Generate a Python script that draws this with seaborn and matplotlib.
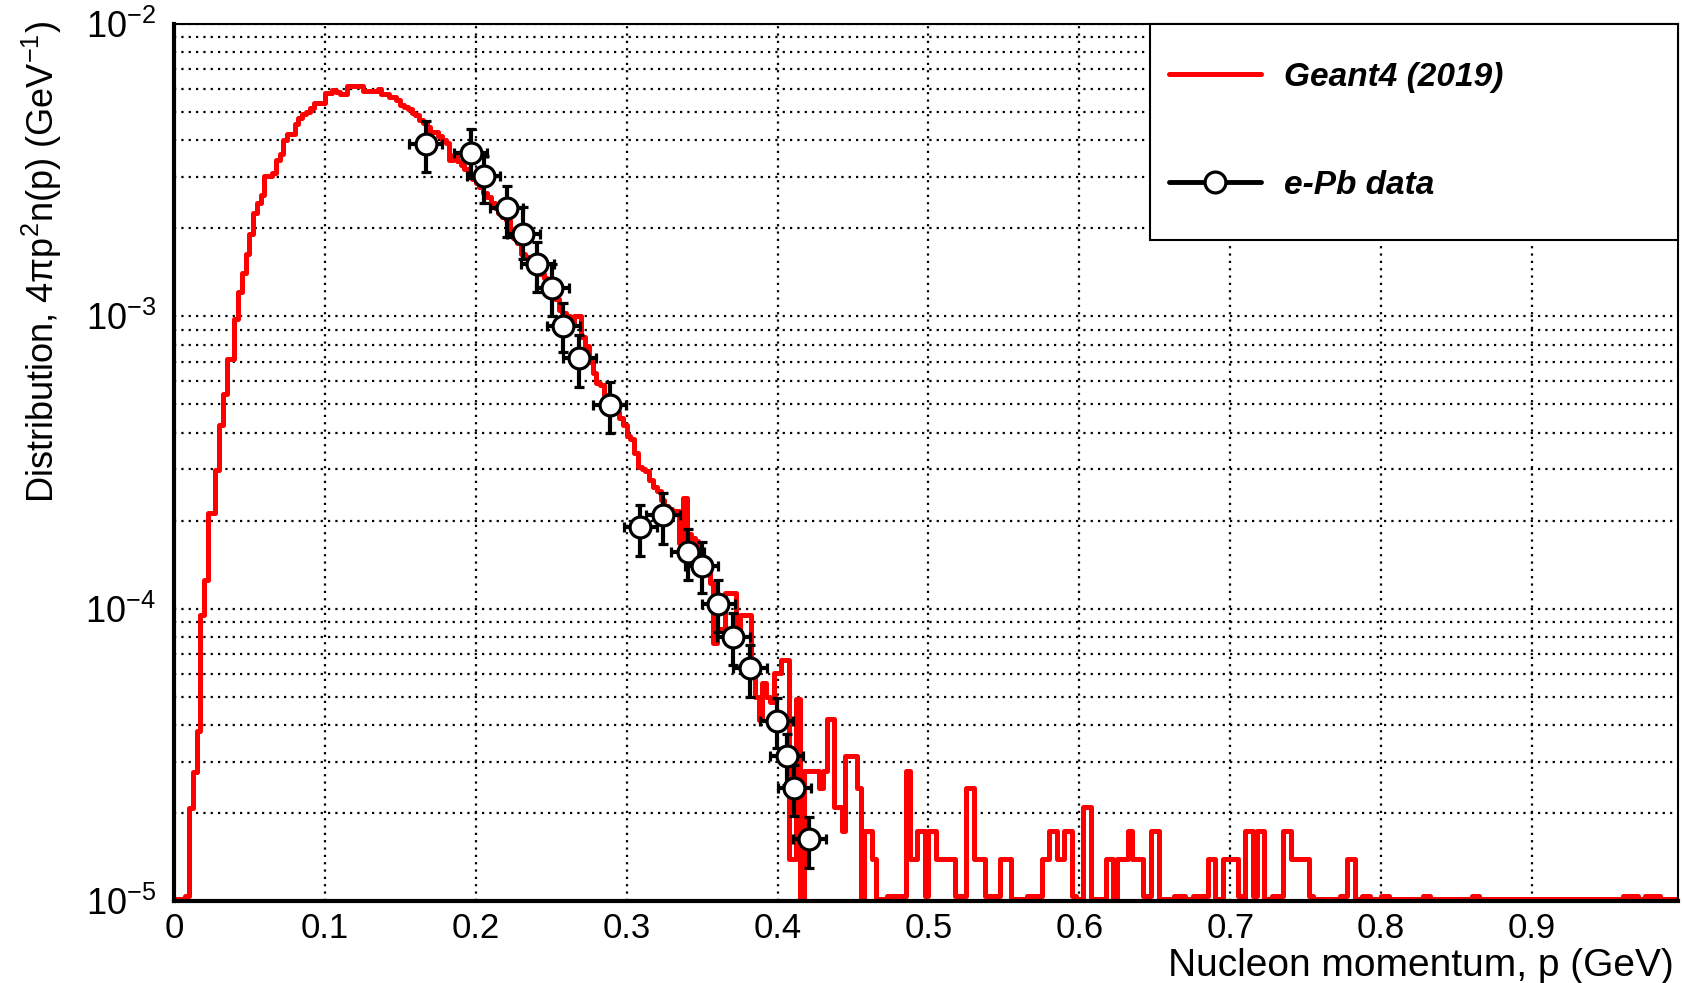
import numpy as np
import pandas as pd
import matplotlib
matplotlib.use("Agg")
import matplotlib.pyplot as plt
import seaborn as sns
from matplotlib.lines import Line2D
from matplotlib.patches import Rectangle
from matplotlib.ticker import LogLocator, MultipleLocator, NullFormatter

# Geant4 (2019): 400 bins of 0.0025 GeV starting at p = 0
bin_width = 0.0025
geant4_density = [
    0, 0, 0, 1.04e-5, 2.08e-5, 2.77e-5, 3.81e-5, 9.5e-5, 1.25e-4, 2.13e-4,
    2.13e-4, 2.99e-4, 4.24e-4, 5.42e-4, 7.14e-4, 7.14e-4, 9.82e-4, 1.21e-3, 1.41e-3, 1.63e-3,
    1.92e-3, 2.25e-3, 2.44e-3, 2.61e-3, 3.02e-3, 3.02e-3, 3.10e-3, 3.43e-3, 3.60e-3, 4.02e-3,
    4.19e-3, 4.19e-3, 4.56e-3, 4.76e-3, 4.93e-3, 5.00e-3, 5.14e-3, 5.36e-3, 5.36e-3, 5.36e-3,
    5.79e-3, 5.79e-3, 5.96e-3, 5.85e-3, 5.75e-3, 5.75e-3, 6.14e-3, 6.14e-3, 6.14e-3, 6.14e-3,
    5.92e-3, 5.92e-3, 5.92e-3, 5.92e-3, 6.00e-3, 5.75e-3, 5.75e-3, 5.64e-3, 5.64e-3, 5.50e-3,
    5.30e-3, 5.20e-3, 5.10e-3, 4.95e-3, 4.90e-3, 4.70e-3, 4.57e-3, 4.45e-3, 4.28e-3, 4.28e-3,
    4.15e-3, 4.01e-3, 3.91e-3, 3.43e-3, 3.55e-3, 3.40e-3, 3.30e-3, 3.20e-3, 3.05e-3, 2.95e-3,
    2.85e-3, 2.78e-3, 2.65e-3, 2.55e-3, 2.44e-3, 2.35e-3, 2.25e-3, 2.18e-3, 2.14e-3, 1.98e-3,
    1.86e-3, 1.78e-3, 1.64e-3, 1.60e-3, 1.55e-3, 1.50e-3, 1.48e-3, 1.40e-3, 1.35e-3, 1.30e-3,
    1.22e-3, 1.15e-3, 1.05e-3, 1.03e-3, 1.00e-3, 9.5e-4, 1.00e-3, 1.00e-3, 8.5e-4, 7.9e-4,
    7.0e-4, 6.4e-4, 5.9e-4, 5.8e-4, 5.4e-4, 5.3e-4, 4.9e-4, 4.7e-4, 4.5e-4, 4.26e-4,
    3.9e-4, 3.8e-4, 3.4e-4, 3.05e-4, 3.0e-4, 2.95e-4, 2.75e-4, 2.6e-4, 2.52e-4, 2.35e-4,
    2.25e-4, 2.2e-4, 2.15e-4, 2.15e-4, 1.68e-4, 2.39e-4, 1.8e-4, 1.74e-4, 1.7e-4, 1.45e-4,
    1.36e-4, 1.36e-4, 1.22e-4, 7.63e-5, 8.5e-5, 8.5e-5, 1.13e-4, 1.13e-4, 1.13e-4, 8.5e-5,
    9.54e-5, 9.54e-5, 9.54e-5, 6.52e-5, 5.0e-5, 4.17e-5, 5.57e-5, 5.0e-5, 4.8e-5, 6.03e-5,
    6.03e-5, 6.69e-5, 6.69e-5, 1.39e-5, 1.39e-5, 4.9e-5, 0, 2.79e-5, 2.79e-5, 2.79e-5,
    2.79e-5, 2.44e-5, 2.79e-5, 4.18e-5, 4.18e-5, 2.09e-5, 2.09e-5, 1.74e-5, 3.14e-5, 3.14e-5,
    3.14e-5, 2.44e-5, 0, 1.74e-5, 1.74e-5, 1.39e-5, 0, 0, 0, 1.04e-5,
    1.04e-5, 1.04e-5, 1.04e-5, 1.04e-5, 2.79e-5, 1.39e-5, 1.39e-5, 1.74e-5, 1.74e-5, 1.04e-5,
    1.74e-5, 1.74e-5, 1.39e-5, 1.39e-5, 1.39e-5, 1.39e-5, 1.39e-5, 1.04e-5, 1.04e-5, 1.04e-5,
    2.44e-5, 2.44e-5, 1.39e-5, 1.39e-5, 1.39e-5, 1.04e-5, 1.04e-5, 1.04e-5, 1.04e-5, 1.39e-5,
    1.39e-5, 1.39e-5, 0, 0, 0, 0, 1.04e-5, 1.04e-5, 1.04e-5, 1.04e-5,
    1.39e-5, 1.39e-5, 1.74e-5, 1.74e-5, 1.39e-5, 1.39e-5, 1.74e-5, 1.74e-5, 1.04e-5, 0,
    0, 2.09e-5, 2.09e-5, 0, 0, 0, 0, 1.39e-5, 1.39e-5, 0,
    1.39e-5, 1.39e-5, 1.39e-5, 1.74e-5, 1.39e-5, 1.39e-5, 1.39e-5, 1.04e-5, 1.04e-5, 1.74e-5,
    1.74e-5, 0, 0, 0, 0, 1.04e-5, 1.04e-5, 1.04e-5, 0, 0,
    1.04e-5, 1.04e-5, 1.04e-5, 1.04e-5, 1.39e-5, 1.39e-5, 0, 0, 1.39e-5, 1.39e-5,
    1.39e-5, 1.39e-5, 1.04e-5, 0, 1.74e-5, 1.74e-5, 1.04e-5, 1.74e-5, 1.74e-5, 0,
    0, 1.04e-5, 1.04e-5, 1.04e-5, 1.74e-5, 1.74e-5, 1.39e-5, 1.39e-5, 1.39e-5, 1.39e-5,
    1.39e-5, 1.04e-5, 0, 0, 0, 0, 0, 0, 0, 1.04e-5,
    1.04e-5, 1.39e-5, 1.39e-5, 0, 0, 1.04e-5, 1.04e-5, 0, 0, 0,
    1.04e-5, 1.04e-5, 0, 0, 0, 0, 0, 0, 0, 0,
    0, 1.04e-5, 1.04e-5, 0, 0, 0, 0, 0, 0, 0,
    0, 0, 0, 0, 1.04e-5, 1.04e-5, 0, 0, 0, 0,
    0, 0, 0, 0, 0, 0, 0, 0, 0, 0,
    0, 0, 0, 0, 0, 0, 0, 0, 0, 0,
    0, 0, 0, 0, 0, 0, 0, 0, 0, 0,
    0, 0, 0, 0, 1.04e-5, 1.04e-5, 1.04e-5, 1.04e-5, 0, 0,
    1.04e-5, 1.04e-5, 1.04e-5, 1.04e-5, 0, 0, 0, 0, 0, 0,
]

# e-Pb data points with their error bands
data_p = [0.1668, 0.1966, 0.2054, 0.2205, 0.2315, 0.2408, 0.2507, 0.2580, 0.2686, 0.2889,
          0.3091, 0.3241, 0.3404, 0.3497, 0.3607, 0.3706, 0.3817, 0.3994, 0.4060, 0.4111, 0.4210]
data_density = [3.88e-3, 3.63e-3, 3.02e-3, 2.34e-3, 1.92e-3, 1.51e-3, 1.25e-3, 9.3e-4, 7.18e-4, 4.97e-4,
                1.90e-4, 2.09e-4, 1.56e-4, 1.40e-4, 1.04e-4, 7.97e-5, 6.25e-5, 4.12e-5, 3.13e-5, 2.43e-5, 1.63e-5]
data_low = [3.11e-3, 2.97e-3, 2.44e-3, 1.87e-3, 1.57e-3, 1.21e-3, 1.00e-3, 7.57e-4, 5.74e-4, 3.98e-4,
            1.52e-4, 1.67e-4, 1.25e-4, 1.13e-4, 8.34e-5, 6.41e-5, 5.0e-5, 3.35e-5, 2.49e-5, 1.95e-5, 1.30e-5]
data_high = [4.64e-3, 4.36e-3, 3.53e-3, 2.79e-3, 2.36e-3, 1.80e-3, 1.51e-3, 1.11e-3, 8.63e-4, 5.97e-4,
             2.26e-4, 2.49e-4, 1.87e-4, 1.69e-4, 1.25e-4, 9.64e-5, 7.5e-5, 4.93e-5, 3.74e-5, 2.92e-5, 1.94e-5]
data_p_halfwidth = 0.011

x_ticks = [0, 0.1, 0.2, 0.3, 0.4, 0.5, 0.6, 0.7, 0.8, 0.9]
x_tick_labels = ["0", "0.1", "0.2", "0.3", "0.4", "0.5", "0.6", "0.7", "0.8", "0.9"]
y_ticks = [1e-5, 1e-4, 1e-3, 1e-2]
y_tick_labels = ["10$^{-5}$", "10$^{-4}$", "10$^{-3}$", "10$^{-2}$"]

sns.set_style("white")
plt.rcParams["font.family"] = ["Liberation Sans", "DejaVu Sans"]
plt.rcParams["mathtext.default"] = "regular"
plt.rcParams["text.color"] = "black"
plt.rcParams["axes.labelcolor"] = "black"
plt.rcParams["xtick.color"] = "black"
plt.rcParams["ytick.color"] = "black"

fig = plt.figure(figsize=(16.82, 9.83), dpi=100)
ax = fig.add_axes([0.1034, 0.0834, 0.8942, 0.8922])

n_bins = len(geant4_density)
hist_df = pd.DataFrame({
    "p": (np.arange(n_bins) + 0.5) * bin_width,
    # empty bins are drawn on the bottom of the log axis, like ROOT does
    "density": np.clip(geant4_density, 1.02e-5, None),
})
sns.histplot(data=hist_df, x="p", weights="density", binwidth=bin_width,
             binrange=(0, n_bins * bin_width), element="step", fill=False,
             color="red", linewidth=3.6, ax=ax)

vals = np.array(data_density)
yerr = [vals - np.array(data_low), np.array(data_high) - vals]
ax.errorbar(data_p, vals, xerr=data_p_halfwidth, yerr=yerr, fmt="o", ms=15,
            mfc="white", mec="black", mew=2.3, ecolor="black", elinewidth=3,
            capsize=3.6, capthick=3, zorder=4)

ax.set_yscale("log")
ax.set_ylim(1e-5, 1e-2)
ax.set_xlim(0, 0.9967)
ax.set_xticks(x_ticks, x_tick_labels)
ax.set_yticks(y_ticks, y_tick_labels)
ax.yaxis.set_minor_locator(LogLocator(base=10, subs=np.arange(2, 10)))
ax.yaxis.set_minor_formatter(NullFormatter())
ax.xaxis.set_minor_locator(MultipleLocator(0.02))

dots = (0, (1, 2.3))
ax.set_axisbelow(True)
ax.grid(which="major", color="black", linestyle=dots, linewidth=1.6)
ax.grid(which="minor", axis="y", color="black", linestyle=dots, linewidth=1.6)

ax.tick_params(axis="y", which="major", direction="in", length=31, width=1.5,
               labelsize=26, pad=13, colors="black")
ax.tick_params(axis="y", which="minor", direction="in", length=14.5, width=1.5)
ax.tick_params(axis="x", which="major", direction="in", length=19, width=1.5,
               labelsize=25, pad=8, colors="black")
ax.tick_params(axis="x", which="minor", direction="in", length=10, width=1.5)

for side in ["left", "bottom"]:
    ax.spines[side].set_linewidth(3)
    ax.spines[side].set_color("black")
for side in ["top", "right"]:
    ax.spines[side].set_linewidth(1.5)
    ax.spines[side].set_color("black")

ax.set_xlabel("Nucleon momentum, p (GeV)", fontsize=28, loc="right")
ax.xaxis.set_label_coords(0.997, -0.0745)
ax.xaxis.label.set_va("center")
ax.set_ylabel("Distribution, 4$\\pi$p$^{2}$n(p) (GeV$^{-1}$)", fontsize=26, loc="top")
ax.yaxis.set_label_coords(-0.088, 1.003)
ax.yaxis.label.set_va("center")

# legend box glued to the top-right corner of the frame
ax.add_patch(Rectangle((0.649, 0.754), 0.351, 0.246, transform=ax.transAxes,
                       facecolor="white", edgecolor="black", linewidth=1.5,
                       zorder=5, clip_on=False))
handles = [Line2D([], [], color="red", lw=3.6),
           Line2D([], [], color="black", lw=3.5, marker="o", ms=15,
                  mfc="white", mec="black", mew=2.3)]
leg = ax.legend(handles, ["Geant4 (2019)", "e-Pb data"], loc="upper left",
                bbox_to_anchor=(0.6616, 0.957), frameon=False, borderpad=0,
                borderaxespad=0, prop={"size": 24, "weight": "bold", "style": "italic"},
                labelspacing=2.31, handlelength=2.75, handletextpad=0.7,
                labelcolor="black")
leg.set_zorder(6)

fig.savefig("out.png", dpi=100)
